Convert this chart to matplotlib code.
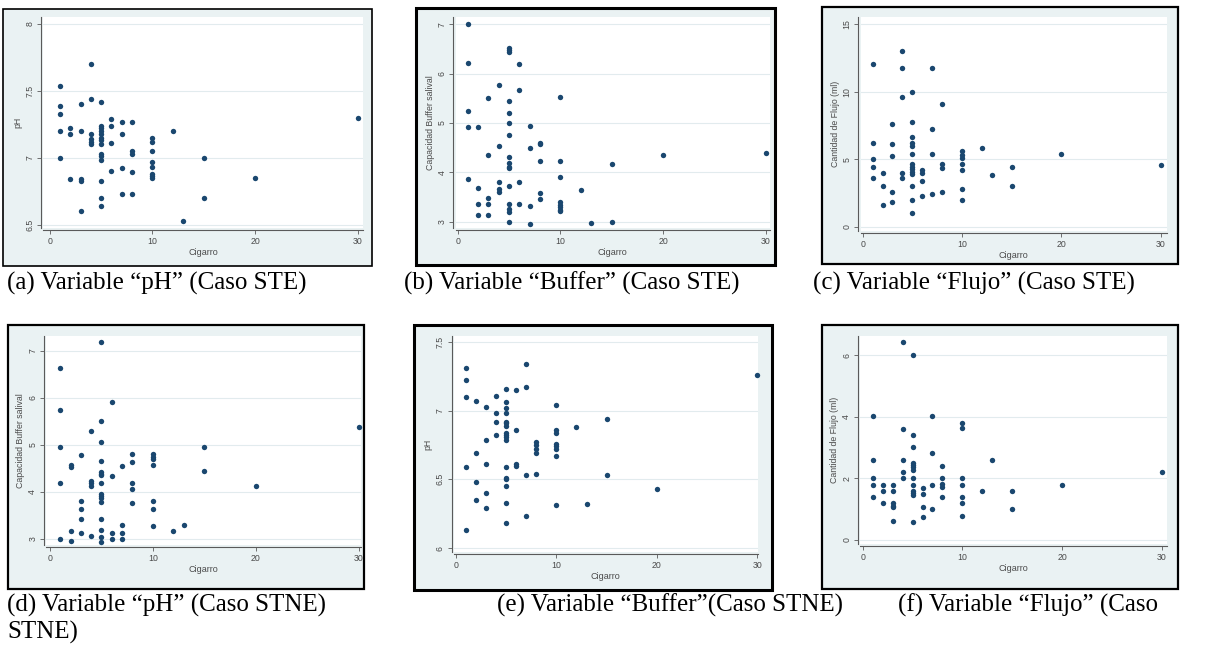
import matplotlib.pyplot as plt
from matplotlib.patches import Rectangle
from matplotlib.ticker import FuncFormatter

# Saliva measurements against cigarettes per day, grouped by cigarette count

ph_ste = {
    1: [7.54, 7.39, 7.33, 7.20, 7.00],
    2: [7.22, 7.18, 6.84],
    3: [7.40, 7.20, 6.84, 6.83, 6.60],
    4: [7.70, 7.44, 7.18, 7.14, 7.12, 7.10],
    5: [7.42, 7.24, 7.22, 7.20, 7.18, 7.15, 7.13, 7.10, 7.03, 7.01, 6.98,
        6.83, 6.70, 6.64],
    6: [7.29, 7.24, 7.11, 6.90],
    7: [7.27, 7.18, 6.92, 6.73],
    8: [7.27, 7.05, 7.03, 6.89, 6.73],
    10: [7.15, 7.12, 7.05, 6.97, 6.93, 6.88, 6.86, 6.85],
    12: [7.20],
    13: [6.53],
    15: [7.00, 6.70],
    20: [6.85],
    30: [7.30],
}

buffer_ste = {
    1: [7.00, 6.22, 5.24, 4.91, 3.87],
    2: [4.91, 3.68, 3.36, 3.14],
    3: [5.51, 4.36, 3.47, 3.36, 3.14],
    4: [5.78, 4.54, 3.81, 3.67, 3.61],
    5: [6.51, 6.48, 6.43, 5.45, 5.21, 4.99, 4.76, 4.32, 4.18, 4.11, 4.08,
        3.72, 3.36, 3.26, 3.20, 3.00],
    6: [6.20, 5.66, 3.80, 3.36],
    7: [4.94, 4.49, 3.31, 2.95],
    8: [4.60, 4.57, 4.22, 3.59, 3.45],
    10: [5.53, 4.22, 3.90, 3.39, 3.34, 3.29, 3.24, 3.22],
    12: [3.65],
    13: [2.97],
    15: [4.17, 2.99],
    20: [4.36],
    30: [4.40],
}

flujo_ste = {
    1: [12.03, 6.23, 4.99, 4.40, 3.58],
    2: [4.00, 3.01, 1.58],
    3: [7.61, 6.10, 5.21, 2.59, 1.80],
    4: [13.02, 11.79, 9.61, 4.00, 3.58],
    5: [10.01, 7.78, 6.62, 6.18, 5.98, 5.39, 4.62, 4.45, 4.25, 4.08, 3.93,
        3.01, 1.98, 0.99],
    6: [4.20, 4.00, 3.39, 2.30],
    7: [11.79, 7.24, 5.39, 2.40],
    8: [9.12, 4.62, 4.37, 2.59],
    10: [5.63, 5.29, 5.07, 4.62, 4.18, 2.82, 1.98],
    12: [5.81],
    13: [3.80],
    15: [4.40, 2.99],
    20: [5.39],
    30: [4.60],
}

buffer_stne = {
    1: [6.63, 5.75, 4.95, 4.19, 3.01],
    2: [4.57, 4.52, 3.16, 2.95],
    3: [4.79, 3.81, 3.64, 3.42, 3.13],
    4: [5.29, 4.23, 4.19, 4.12, 3.07],
    5: [7.19, 5.51, 5.07, 4.65, 4.43, 4.39, 4.37, 4.19, 3.96, 3.92, 3.87,
        3.78, 3.42, 3.19, 3.04, 2.93],
    6: [5.90, 4.34, 3.13, 3.01],
    7: [4.55, 3.29, 3.13, 3.01],
    8: [4.81, 4.63, 4.19, 4.07, 3.76],
    10: [4.81, 4.75, 4.70, 4.58, 3.80, 3.64, 3.27],
    12: [3.16],
    13: [3.30],
    15: [4.95, 4.44],
    20: [4.13],
    30: [5.37],
}

ph_stne = {
    1: [7.31, 7.22, 7.10, 6.59, 6.13],
    2: [7.07, 6.69, 6.48, 6.35],
    3: [7.03, 6.79, 6.61, 6.40, 6.29],
    4: [7.11, 6.98, 6.92, 6.82],
    5: [7.16, 7.06, 7.02, 6.98, 6.92, 6.91, 6.89, 6.84, 6.82, 6.81, 6.79,
        6.59, 6.51, 6.50, 6.45, 6.33, 6.18],
    6: [7.15, 6.86, 6.61, 6.60],
    7: [7.34, 7.17, 6.53, 6.23],
    8: [6.77, 6.75, 6.72, 6.69, 6.54],
    10: [7.04, 6.86, 6.84, 6.76, 6.74, 6.72, 6.67, 6.31],
    12: [6.88],
    13: [6.32],
    15: [6.94, 6.53],
    20: [6.43],
    30: [7.26],
}

flujo_stne = {
    1: [4.01, 2.59, 2.00, 1.79, 1.38],
    2: [1.79, 1.59, 1.18],
    3: [1.79, 1.59, 1.19, 1.11, 1.05, 0.61],
    4: [6.42, 3.60, 2.59, 2.19, 2.00],
    5: [6.01, 3.42, 3.00, 2.49, 2.43, 2.35, 2.28, 2.00, 1.79, 1.59, 1.53,
        1.46, 0.59],
    6: [1.68, 1.49, 1.08, 0.73],
    7: [4.01, 2.81, 1.79, 0.99],
    8: [2.39, 2.00, 1.80, 1.71, 1.39],
    10: [3.80, 3.62, 2.00, 1.79, 1.39, 1.19, 0.78],
    12: [1.59],
    13: [2.59],
    15: [1.59, 0.99],
    20: [1.79],
    30: [2.19],
}

x_ticks = [0, 10, 20, 30]
x_label = 'Cigarro'

##########################################################################
## Layout (pixel boxes on a 1208x655 canvas)
##########################################################################

W, H = 1208, 655
NAVY = '#1A476F'
REGION = '#EAF2F3'
AXIS = '#5a5a5a'
TEXT = '#4a4a4a'


def fig_box(x0, y0, x1, y1):
    """Pixel box (top-left origin) -> figure fraction [left, bottom, w, h]."""
    return [x0 / W, 1 - y1 / H, (x1 - x0) / W, (y1 - y0) / H]


panels = [
    dict(data=ph_ste, ylabel='pH', yticks=[6.5, 7, 7.5, 8],
         frame=(3, 9, 372, 266), lw=1.2,
         box=(43.5, 17, 363, 228), xlim=(-0.61, 30.52), ylim=(6.475, 8.052)),
    dict(data=buffer_ste, ylabel='Capacidad Buffer salival', yticks=[3, 4, 5, 6, 7],
         frame=(416, 8, 775, 265), lw=2.2,
         box=(455.5, 17, 770, 228), xlim=(-0.21, 30.41), ylim=(2.872, 7.148)),
    dict(data=flujo_ste, ylabel='Cantidad de Flujo (ml)', yticks=[0, 5, 10, 15],
         frame=(822, 7, 1178, 264), lw=1.6,
         box=(860.5, 17, 1167, 231), xlim=(-0.22, 30.64), ylim=(-0.32, 15.54)),
    dict(data=buffer_stne, ylabel='Capacidad Buffer salival', yticks=[3, 4, 5, 6, 7],
         frame=(8, 325, 364, 589), lw=1.6,
         box=(46.3, 336, 361, 545), xlim=(-0.36, 30.22), ylim=(2.873, 7.312)),
    dict(data=ph_stne, ylabel='pH', yticks=[6, 6.5, 7, 7.5],
         frame=(414, 325, 772, 590), lw=2.2,
         box=(453.7, 336, 758, 552), xlim=(-0.23, 30.08), ylim=(5.971, 7.544)),
    dict(data=flujo_stne, ylabel='Cantidad de Flujo (ml)', yticks=[0, 2, 4, 6],
         frame=(822, 325, 1178, 589), lw=1.6,
         box=(860.3, 336, 1166.7, 544), xlim=(-0.24, 30.49), ylim=(-0.14, 6.628)),
]

captions = [
    (7, 290, '(a) Variable \u201cpH\u201d (Caso STE)'),
    (404, 290, '(b) Variable \u201cBuffer\u201d (Caso STE)'),
    (813, 290, '(c) Variable \u201cFlujo\u201d (Caso STE)'),
    (7, 612, '(d) Variable \u201cpH\u201d (Caso STNE)'),
    (497, 612, '(e) Variable \u201cBuffer\u201d(Caso STNE)'),
    (898, 612, '(f) Variable \u201cFlujo\u201d (Caso'),
    (7, 639, 'STNE)'),
]

##########################################################################
## Drawing
##########################################################################

plt.rcParams['font.family'] = ['Liberation Sans', 'DejaVu Sans']

fig = plt.figure(figsize=(W / 100, H / 100), dpi=100)
fig.patch.set_facecolor('white')

for p in panels:
    # graph region with its black frame
    fl, fb, fw, fh = fig_box(*p['frame'])
    fig.add_artist(Rectangle((fl, fb), fw, fh, transform=fig.transFigure,
                             facecolor=REGION, edgecolor='black',
                             lw=p['lw'], zorder=-1))

    ax = fig.add_axes(fig_box(*p['box']))
    ax.set_facecolor('white')

    xs, ys = [], []
    for cig, vals in p['data'].items():
        xs.extend([cig] * len(vals))
        ys.extend(vals)
    ax.scatter(xs, ys, s=15, color=NAVY, lw=0, zorder=3, clip_on=False)

    ax.set_xlim(*p['xlim'])
    ax.set_ylim(*p['ylim'])
    ax.set_xticks(x_ticks)
    ax.set_yticks(p['yticks'])
    ax.yaxis.set_major_formatter(FuncFormatter(lambda v, _: '%g' % v))

    ax.yaxis.grid(True, color='#E2EBEE', lw=0.8)
    ax.set_axisbelow(True)

    for side in ('top', 'right'):
        ax.spines[side].set_visible(False)
    for side in ('left', 'bottom'):
        ax.spines[side].set_position(('outward', 1.5))
        ax.spines[side].set_color(AXIS)
        ax.spines[side].set_linewidth(0.8)

    ax.tick_params(direction='out', length=3, width=0.6, color=AXIS,
                   labelsize=6.3, labelcolor=TEXT, pad=2)
    for lab in ax.get_yticklabels():
        lab.set_rotation(90)
        lab.set_va('center')

    ax.set_xlabel(x_label, fontsize=6.5, color=TEXT, labelpad=1.5)
    ax.set_ylabel(p['ylabel'], fontsize=6.3, color=TEXT, labelpad=2)

for x, y, text in captions:
    fig.text(x / W, 1 - y / H, text, fontsize=18, va='baseline', ha='left',
             family=['Liberation Serif', 'DejaVu Serif'], color='black')

fig.savefig('out.png', dpi=100, facecolor='white')
